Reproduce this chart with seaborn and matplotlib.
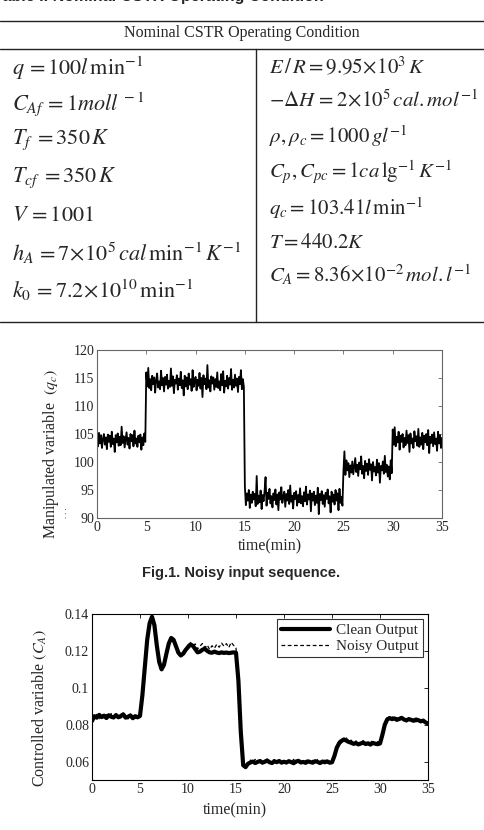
import numpy as np
import pandas as pd
import matplotlib
matplotlib.use("Agg")
import matplotlib.pyplot as plt
import seaborn as sns

W, H = 484, 830

# -----------------------------
# Table content
# -----------------------------
table_title = "Table I. Nominal CSTR Operating Condition"
table_header = "Nominal CSTR Operating Condition"

left_params = [
    r"$q\,=100l\,\mathrm{min}^{-1}$",
    r"$C_{Af}\,=1moll^{\,-1}$",
    r"$T_f\;=350\,K$",
    r"$T_{cf}\;=350\,K$",
    r"$V\,=1001$",
    r"$h_A\,=7\!\times\!10^5\,cal\,\mathrm{min}^{-1}\,K^{-1}$",
    r"$k_0\,=7.2\!\times\!10^{10}\,\mathrm{min}^{-1}$",
]
left_rows_y = [68, 104, 140, 178, 216, 253, 290]

right_params = [
    r"$E\,/\,R=9.95\!\times\!10^3\,K$",
    r"$-\Delta H\,=2\!\times\!10^5\,\mathit{cal.mol}^{-1}$",
    r"$\rho,\rho_c=1000\,gl^{-1}$",
    r"$C_p,C_{pc}=1ca\,\mathrm{lg}^{-1}\,K^{-1}$",
    r"$q_c=103.41l\,\mathrm{min}^{-1}$",
    r"$T=440.2K$",
    r"$C_A=8.36\!\times\!10^{-2}\,\mathit{mol.l}^{-1}$",
]
right_rows_y = [67, 101, 136, 172, 208, 243, 275]

# -----------------------------
# Fig.1 : noisy input q_c (sampled every 0.1 min)
# -----------------------------
qc_dt = 0.1
qc_starts = [0, 5, 15, 25, 30]
qc_levels = [103.9, 114.2, 93.6, 98.9, 103.9]
qc_noise = [
    [0.4, -1.1, 1.3, -0.6, 0.9, -1.4, 0.2, 1.1, -0.8, 0.5,
     -1.6, 1.0, -0.3, 0.8, -1.2, 1.5, -0.7, 0.3, -2.1, 0.9,
     -0.4, 1.2, -1.0, 0.6, -0.9, 2.4, -0.5, 0.7, -1.3, 0.1,
     1.4, -0.8, 0.4, -1.5, 1.1, -0.2, 0.9, -1.1, 1.7, -0.6,
     0.3, -1.2, 0.8, -0.4, 1.0, -1.7, 0.5, -0.9, 1.2, -0.3],
    [1.8, -0.7, 2.6, -1.0, 0.6, -1.4, 1.2, -0.3, 0.9, -1.8,
     0.4, 1.6, -0.9, 0.2, -1.2, 2.1, -0.5, 0.8, -1.6, 1.0,
     -0.4, 1.4, -1.1, 0.3, -0.8, 2.5, -0.6, 1.1, -1.9, 0.5,
     -0.2, 1.3, -1.3, 0.7, -0.5, 1.9, -1.0, 0.4, -2.3, 1.2,
     -0.7, 0.9, -1.2, 1.6, -0.4, 0.6, -1.5, 2.2, -0.8, 0.3,
     1.0, -1.4, 0.5, -0.6, 1.7, -1.1, 0.8, -2.6, 1.3, -0.3,
     0.7, -1.2, 3.1, -0.9, 0.4, -1.6, 1.1, -0.2, 0.9, -1.3,
     0.6, -0.8, 1.8, -1.0, 0.2, -1.4, 1.5, -0.5, 2.0, -1.8,
     0.3, -0.7, 1.2, -1.1, 0.8, -0.4, 2.4, -1.3, 0.5, -0.9,
     1.4, -0.6, 0.7, -1.7, 1.0, -0.3, 2.2, -1.2, 0.6, -0.8],
    [2.1, -1.3, 0.8, -0.5, 1.4, -1.8, 0.6, -0.9, 1.1, -0.3,
     0.7, -1.5, 3.9, -1.1, 0.4, -0.8, 1.3, -2.0, 0.5, -0.6,
     1.2, 3.7, -1.4, 0.9, -0.2, 1.6, -1.0, 0.3, -1.7, 0.8,
     -0.4, 1.5, -1.2, 0.6, -2.2, 1.0, -0.3, 1.9, -0.9, 0.2,
     1.1, -1.6, 0.7, -0.5, 1.4, -1.1, 2.2, -0.7, 0.4, -1.9,
     0.9, -0.2, 1.2, -1.4, 0.5, -0.8, 1.7, -1.0, 0.3, -1.5,
     1.0, -0.6, 2.0, -1.2, 0.6, -0.3, 1.3, -2.4, 0.8, -0.5,
     1.1, -1.3, 0.4, -0.9, 1.8, -2.9, 0.7, -0.4, 1.2, -1.1,
     0.5, -1.6, 0.9, -0.2, 1.5, -1.0, 0.3, -2.6, 1.1, -0.7,
     0.6, -1.2, 1.4, -0.5, 0.8, -2.2, 1.6, -0.9, 0.2, -1.4],
    [-0.6, 3.0, -1.2, 1.4, -0.4, 0.9, -1.6, 0.5, -0.8, 1.2,
     -1.1, 0.3, 1.8, -0.7, 0.6, -1.4, 1.0, -0.2, 2.1, -1.0,
     0.4, -1.8, 1.3, -0.5, 0.8, -1.2, 1.6, -0.3, 0.7, -2.2,
     1.1, -0.6, 0.2, -1.3, 1.5, -0.8, 0.9, -2.6, 0.4, -0.4,
     1.2, -1.0, 2.2, -0.7, 0.6, -1.5, 0.3, -2.0, 1.4, -0.9],
    [1.9, -0.8, 2.3, -1.1, 0.6, -0.4, 1.5, -1.7, 0.8, -0.3,
     1.1, -1.3, 0.4, -0.9, 1.7, -0.5, 0.9, -2.1, 1.2, -0.6,
     0.3, -1.4, 1.6, -0.2, 0.7, -1.0, 2.0, -1.2, 0.5, -0.8,
     1.3, -1.6, 0.8, -0.4, 1.1, -0.9, 1.8, -2.3, 0.6, -0.5,
     1.0, -1.1, 1.4, -0.7, 0.3, -1.9, 1.5, -0.6, 0.9, -1.4, 0.4],
]
fig1_xticks = [0, 5, 10, 15, 20, 25, 30, 35]
fig1_yticks = [90, 95, 100, 105, 110, 115, 120]

# -----------------------------
# Fig.2 : controlled variable C_A (sampled every 0.25 min)
# -----------------------------
ca_dt = 0.25
ca_clean = [
    0.0820, 0.0846, 0.0838, 0.0853, 0.0841, 0.0849, 0.0836, 0.0851, 0.0843, 0.0839,
    0.0852, 0.0840, 0.0847, 0.0856, 0.0838, 0.0843, 0.0850, 0.0835, 0.0846, 0.0840,
    0.0848, 0.0960, 0.1110, 0.1260, 0.1350, 0.1385, 0.1340, 0.1230, 0.1140, 0.1100,
    0.1125, 0.1185, 0.1240, 0.1270, 0.1260, 0.1225, 0.1190, 0.1175, 0.1185, 0.1205,
    0.1220, 0.1235, 0.1228, 0.1210, 0.1192, 0.1196, 0.1206, 0.1212, 0.1200, 0.1192,
    0.1190, 0.1196, 0.1191, 0.1188, 0.1192, 0.1189, 0.1191, 0.1188, 0.1190, 0.1192,
    0.1190, 0.1040, 0.0760, 0.0580, 0.0570, 0.0588, 0.0595, 0.0600, 0.0592, 0.0598,
    0.0603, 0.0594, 0.0599, 0.0605, 0.0596, 0.0592, 0.0601, 0.0597, 0.0603, 0.0594,
    0.0599, 0.0595, 0.0602, 0.0597, 0.0591, 0.0600, 0.0604, 0.0595, 0.0598, 0.0593,
    0.0601, 0.0597, 0.0594, 0.0602, 0.0598, 0.0592, 0.0600, 0.0596, 0.0601, 0.0594,
    0.0596, 0.0630, 0.0675, 0.0700, 0.0712, 0.0720, 0.0713, 0.0706, 0.0702, 0.0696,
    0.0700, 0.0693, 0.0698, 0.0703, 0.0695, 0.0699, 0.0692, 0.0701, 0.0697, 0.0694,
    0.0698, 0.0745, 0.0800, 0.0828, 0.0836, 0.0830, 0.0834, 0.0826, 0.0831, 0.0837,
    0.0828, 0.0823, 0.0830, 0.0826, 0.0821, 0.0828, 0.0824, 0.0818, 0.0822, 0.0812,
    0.0806,
]
ca_noisy = [
    0.0825, 0.0838, 0.0856, 0.0832, 0.0858, 0.0837, 0.0855, 0.0842, 0.0860, 0.0833,
    0.0859, 0.0846, 0.0836, 0.0862, 0.0844, 0.0831, 0.0857, 0.0845, 0.0834, 0.0853,
    0.0838, 0.0975, 0.1120, 0.1270, 0.1345, 0.1395, 0.1330, 0.1220, 0.1130, 0.1095,
    0.1120, 0.1190, 0.1250, 0.1280, 0.1250, 0.1215, 0.1180, 0.1172, 0.1190, 0.1215,
    0.1232, 0.1246, 0.1222, 0.1238, 0.1210, 0.1226, 0.1240, 0.1218, 0.1232, 0.1208,
    0.1228, 0.1214, 0.1236, 0.1220, 0.1242, 0.1225, 0.1239, 0.1218, 0.1246, 0.1230,
    0.1215, 0.1020, 0.0745, 0.0575, 0.0562, 0.0595, 0.0608, 0.0590, 0.0612, 0.0596,
    0.0609, 0.0588, 0.0606, 0.0614, 0.0590, 0.0604, 0.0611, 0.0589, 0.0607, 0.0598,
    0.0610, 0.0588, 0.0606, 0.0593, 0.0612, 0.0591, 0.0609, 0.0600, 0.0587, 0.0605,
    0.0613, 0.0592, 0.0607, 0.0589, 0.0611, 0.0597, 0.0586, 0.0608, 0.0594, 0.0588,
    0.0602, 0.0640, 0.0690, 0.0712, 0.0725, 0.0714, 0.0728, 0.0708, 0.0716, 0.0698,
    0.0712, 0.0690, 0.0706, 0.0713, 0.0688, 0.0709, 0.0702, 0.0714, 0.0691, 0.0708,
    0.0705, 0.0760, 0.0812, 0.0842, 0.0828, 0.0846, 0.0825, 0.0839, 0.0820, 0.0843,
    0.0832, 0.0817, 0.0838, 0.0822, 0.0834, 0.0815, 0.0829, 0.0820, 0.0826, 0.0808,
    0.0798,
]
fig2_xticks = [0, 5, 10, 15, 20, 25, 30, 35]
fig2_yticks = [0.06, 0.08, 0.1, 0.12, 0.14]
fig2_yticklabels = ["0.06", "0.08", "0.1", "0.12", "0.14"]


def rect(left, top, right, bottom):
    # pixel box -> figure fraction
    return [left / W, 1 - bottom / H, (right - left) / W, (bottom - top) / H]


# -----------------------------
# Build data frames
# -----------------------------
times, values = [], []
for start, level, noise in zip(qc_starts, qc_levels, qc_noise):
    for i, n in enumerate(noise):
        times.append(start + i * qc_dt)
        values.append(level + n)
df_in = pd.DataFrame({"time": times, "qc": values})

t_out = np.arange(len(ca_clean)) * ca_dt
df_out = pd.DataFrame({"time": t_out, "clean": ca_clean, "noisy": ca_noisy})

# -----------------------------
# Style
# -----------------------------
sns.set_theme(style="white")
plt.rcParams["font.family"] = ["Liberation Serif", "DejaVu Serif"]
plt.rcParams["mathtext.fontset"] = "stix"
plt.rcParams["axes.linewidth"] = 0.8

fig = plt.figure(figsize=(W / 100, H / 100), dpi=100)

# page layer in pixel coordinates
page = fig.add_axes([0, 0, 1, 1])
page.set_xlim(0, W)
page.set_ylim(H, 0)
page.axis("off")

page.text(-6, 1.5, table_title, family="Liberation Sans", weight="bold",
          fontsize=11.5, va="baseline", ha="left")

line_kw = dict(color="#222222", lw=1.0)
page.plot([0, W], [21, 21], **line_kw)
page.plot([0, W], [49, 49], **line_kw)
page.plot([0, W], [322, 322], **line_kw)
page.plot([256, 256], [49, 322], **line_kw)

page.text(242, 33, table_header, fontsize=11.5, ha="center", va="center")

for txt, y in zip(left_params, left_rows_y):
    page.text(12, y, txt, fontsize=16, ha="left", va="center")
for txt, y in zip(right_params, right_rows_y):
    page.text(269, y, txt, fontsize=15, ha="left", va="center")

# -----------------------------
# Fig.1
# -----------------------------
ax1 = fig.add_axes(rect(97, 350, 442, 518))
sns.lineplot(data=df_in, x="time", y="qc", ax=ax1, color="black",
             lw=1.3, estimator=None, sort=False)
ax1.set_xlim(0, 35)
ax1.set_ylim(90, 120)
ax1.set_xticks(fig1_xticks)
ax1.set_yticks(fig1_yticks)
ax1.set_xlabel("")
ax1.set_ylabel("")
for sp in ax1.spines.values():
    sp.set_color("#666666")
ax1.tick_params(direction="in", length=3, width=0.6, top=True, right=True,
                labelsize=10, pad=2, color="#666666")

page.text(270, 546, "time(min)", fontsize=11.5, ha="center", va="center")
page.text(51, 454, r"Manipulated variable  $(q_c)$", fontsize=11.5,
          rotation=90, ha="center", va="center")
page.text(65, 513, ". . .", fontsize=6, rotation=90, ha="center", va="center")

page.text(241, 573, "Fig.1. Noisy input sequence.", family="Liberation Sans",
          weight="bold", fontsize=10.5, ha="center", va="center")

# -----------------------------
# Fig.2
# -----------------------------
ax2 = fig.add_axes(rect(92, 614, 428, 780))
sns.lineplot(data=df_out, x="time", y="clean", ax=ax2, color="black",
             lw=3.0, estimator=None, sort=False, label="Clean Output")
sns.lineplot(data=df_out, x="time", y="noisy", ax=ax2, color="black",
             lw=0.9, linestyle=(0, (3, 2)), estimator=None, sort=False,
             label="Noisy Output")
ax2.set_xlim(0, 35)
ax2.set_ylim(0.05, 0.14)
ax2.set_xticks(fig2_xticks)
ax2.set_yticks(fig2_yticks)
ax2.set_yticklabels(fig2_yticklabels)
ax2.set_xlabel("")
ax2.set_ylabel("")
for sp in ax2.spines.values():
    sp.set_color("black")
ax2.tick_params(direction="in", length=3, width=0.6, top=True, right=True,
                labelsize=10, pad=2, color="black")
leg = ax2.legend(loc="upper right", fontsize=11, frameon=True, fancybox=False,
                 borderaxespad=0.35, handlelength=3.2, borderpad=0.25,
                 labelspacing=0.15, handletextpad=0.4)
leg.get_frame().set_edgecolor("black")
leg.get_frame().set_linewidth(0.8)

page.text(235, 810, "time(min)", fontsize=11.5, ha="center", va="center")
page.text(40, 708, r"Controlled variable $(C_A)$", fontsize=11.5,
          rotation=90, ha="center", va="center")

fig.savefig("out.png", dpi=100)
